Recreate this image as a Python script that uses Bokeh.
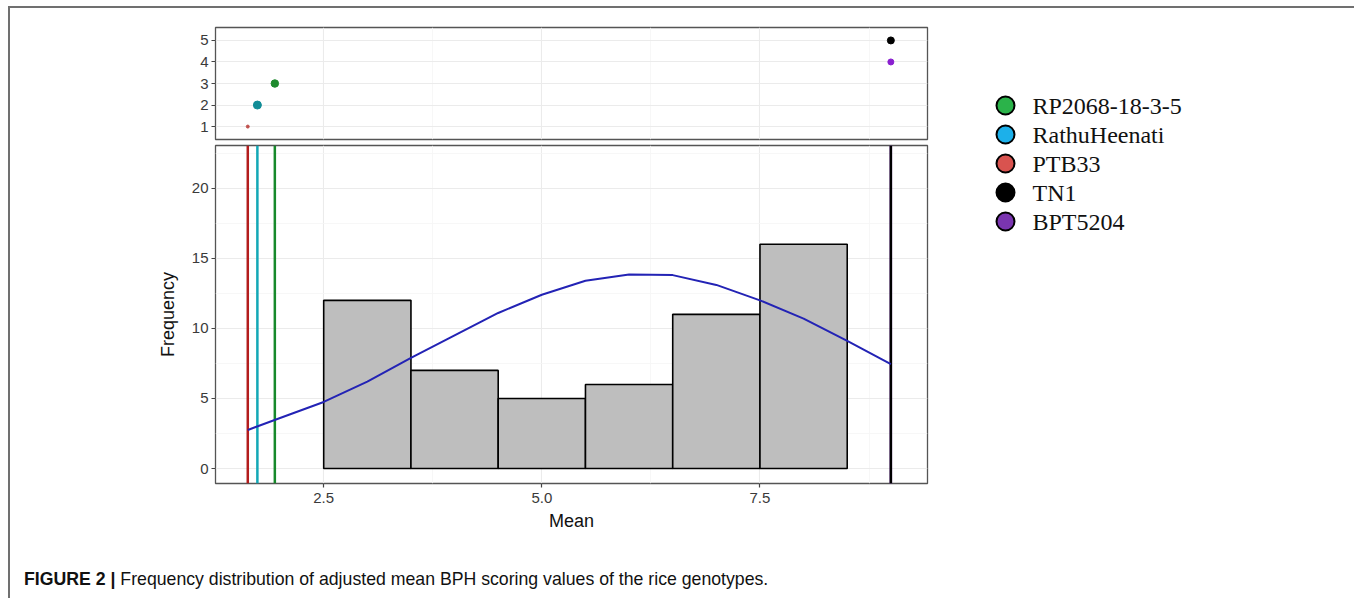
from bokeh.plotting import figure
from bokeh.models import Range1d, FixedTicker, Span, Div, ColumnDataSource
from bokeh.layouts import column, row
from bokeh.core.properties import value
from bokeh.embed import file_html
from bokeh.resources import INLINE

# ---------------- data ----------------
bin_left = [2.5, 3.5, 4.5, 5.5, 6.5, 7.5]
bin_right = [3.5, 4.5, 5.5, 6.5, 7.5, 8.5]
counts = [12, 7, 5, 6, 11, 16]

genotypes = ["RP2068-18-3-5", "RathuHeenati", "PTB33", "TN1", "BPT5204"]
geno_mean = [1.94, 1.74, 1.63, 9.0, 9.0]
geno_rank = [3, 2, 1, 5, 4]
point_size = [7.5, 8, 3, 7, 6]

# fitted density curve (scaled to counts)
curve_x = [1.63, 2.0, 2.5, 3.0, 3.5, 4.0, 4.5, 5.0, 5.5, 6.0, 6.5, 7.0, 7.5, 8.0, 8.5, 9.0]
curve_y = [2.75, 3.6, 4.75, 6.2, 7.9, 9.5, 11.1, 12.4, 13.4, 13.85, 13.8, 13.1, 12.0, 10.7, 9.1, 7.45]

x_ticks = [2.5, 5.0, 7.5]
x_minor = [1.25, 3.75, 6.25, 8.75]
y_ticks = [0, 5, 10, 15, 20]
y_minor = [2.5, 7.5, 12.5, 17.5, 22.5]
rank_ticks = [1, 2, 3, 4, 5]

line_colors = ["#17892b", "#13a8b6", "#b31d1d", "#000000", "#7b2fb5"]
point_colors = ["#1e8a2e", "#128d97", "#c0504d", "#000000", "#8a1fd0"]
legend_colors = ["#2bb34a", "#1cb0ea", "#d9534f", "#000000", "#7a35b0"]

FONT = "Liberation Sans"


def style(p):
    p.outline_line_color = "#555555"
    p.outline_line_width = 1.3
    p.background_fill_color = "white"
    p.border_fill_color = "white"
    for ax in p.axis:
        ax.axis_line_color = None
        ax.major_tick_line_color = "#444444"
        ax.major_tick_line_width = 1.2
        ax.major_tick_out = 4
        ax.major_tick_in = 0
        ax.minor_tick_line_color = None
        ax.major_label_text_font = FONT
        ax.major_label_text_font_size = "15px"
        ax.major_label_text_color = "#3a3a3a"
        ax.major_label_standoff = 3
        ax.axis_label_text_font = FONT
        ax.axis_label_text_font_size = "18px"
        ax.axis_label_text_font_style = "normal"
        ax.axis_label_text_color = "#111111"
    p.grid.grid_line_color = "#ebebeb"
    p.grid.grid_line_width = 1.1
    p.grid.minor_grid_line_color = "#f5f5f5"
    p.grid.minor_grid_line_width = 0.8


x_range = Range1d(1.26, 9.42)

# ---------------- upper panel ----------------
p_top = figure(width=927, height=134, x_range=x_range, y_range=Range1d(0.4, 5.6),
               output_backend="svg", toolbar_location=None,
               min_border_left=205, min_border_right=10, min_border_top=19, min_border_bottom=3)
p_top.xaxis.ticker = FixedTicker(ticks=x_ticks, minor_ticks=x_minor)
p_top.yaxis.ticker = FixedTicker(ticks=rank_ticks)
style(p_top)
p_top.xaxis.visible = False
src_pts = ColumnDataSource(dict(x=geno_mean, y=geno_rank, s=point_size, c=point_colors))
p_top.scatter("x", "y", size="s", color="c", source=src_pts)

# ---------------- main panel ----------------
p_main = figure(width=927, height=398, x_range=x_range, y_range=Range1d(-1.07, 23.05),
                output_backend="svg", toolbar_location=None,
                x_axis_label="Mean", y_axis_label="Frequency",
                min_border_left=205, min_border_right=10, min_border_top=3, min_border_bottom=57)
p_main.xaxis.ticker = FixedTicker(ticks=x_ticks, minor_ticks=x_minor)
p_main.xaxis.major_label_overrides = {t: f"{t:.1f}" for t in x_ticks}
p_main.yaxis.ticker = FixedTicker(ticks=y_ticks, minor_ticks=y_minor)
style(p_main)
p_main.xaxis.major_label_standoff = 5
p_main.xaxis.axis_label_standoff = 5
p_main.yaxis.axis_label_standoff = 11

for m, c in reversed(list(zip(geno_mean, line_colors))):
    p_main.add_layout(Span(location=m, dimension="height", line_color=c,
                           line_width=2.5, level="underlay"))

p_main.quad(left=bin_left, right=bin_right, bottom=0, top=counts,
            fill_color="#bebebe", line_color="black", line_width=1.6)
p_main.line(curve_x, curve_y, line_color="#2323b5", line_width=2)

# ---------------- legend panel ----------------
rows = list(range(len(genotypes)))
p_leg = figure(width=413, height=532, x_range=Range1d(-68, 345), y_range=Range1d(15.0, -3.345),
               output_backend="svg", toolbar_location=None,
               min_border=0, outline_line_color=None)
p_leg.axis.visible = False
p_leg.grid.visible = False
leg_src = ColumnDataSource(dict(y=rows, x=[0] * len(rows), tx=[27] * len(rows),
                                c=legend_colors, name=genotypes))
p_leg.scatter("x", "y", size=18, fill_color="c", line_color="black", line_width=2, source=leg_src)
p_leg.text("tx", "y", text="name", source=leg_src, text_font=value("Liberation Serif"),
           text_font_size="24px", text_baseline="middle", text_color="#111111")

caption = Div(
    text='<b>FIGURE 2 |</b> Frequency distribution of adjusted mean BPH scoring values of the rice genotypes.',
    width=1340, height=48,
    styles={"font-family": "Liberation Sans", "font-size": "17.7px", "color": "#111111",
            "padding-left": "9px", "padding-top": "24px", "line-height": "20px"})

page = column(row(column(p_top, p_main), p_leg), caption,
              styles={"margin-left": "8px", "margin-top": "6px",
                      "border-left": "2px solid #707070", "border-top": "2px solid #707070",
                      "border-right": "2px solid #707070"})

open("out.html", "w").write(file_html(page, INLINE))
